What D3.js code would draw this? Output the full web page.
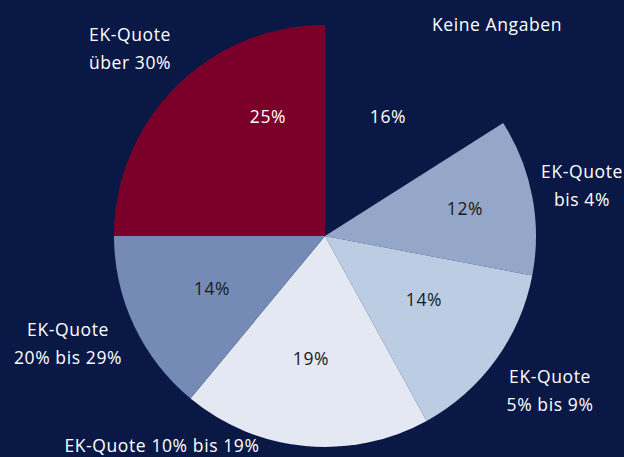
<!DOCTYPE html>
<html><head><meta charset="utf-8">
<script src="https://cdn.jsdelivr.net/npm/d3@7"></script>
<style>html,body{margin:0;padding:0;background:#0a1846;}svg{display:block;}</style>
</head><body><svg id="c" width="624" height="457"></svg>
<script>
const categories = ["Keine Angaben","EK-Quote bis 4%","EK-Quote 5% bis 9%","EK-Quote 10% bis 19%","EK-Quote 20% bis 29%","EK-Quote über 30%"];
const values = [16, 12, 14, 19, 14, 25];
const sliceColors = ["#0a1846","#94a7c8","#bccde3","#e3e8f2","#768ab6","#7b0029"];
const pctColors = ["#ffffff","#1a1a1a","#1a1a1a","#1a1a1a","#1a1a1a","#ffffff"];
const nameLines = [["Keine Angaben"],["EK-Quote","bis 4%"],["EK-Quote","5% bis 9%"],["EK-Quote 10% bis 19%"],["EK-Quote","20% bis 29%"],["EK-Quote","über 30%"]];
// layout: label positions
const pctPos = [[388,116],[465,208],[424,299],[311,358],[212,288],[268,116]];
const namePos = [[497,24],[582,171],[550,376],[162,445],[68,329],[130,34]];

const svg = d3.select("#c");
const W = 624, H = 457, cx = 325, cy = 236, R = 211;
svg.append("rect").attr("width",W).attr("height",H).attr("fill","#0a1846");
const pie = d3.pie().sort(null).value(d=>d);
const arc = d3.arc().innerRadius(0).outerRadius(R);
const g = svg.append("g").attr("transform",`translate(${cx},${cy})`);
g.selectAll("path").data(pie(values)).join("path")
  .attr("d",arc).attr("fill",(d,i)=>sliceColors[i]);

const font = "'Open Sans', sans-serif";
svg.selectAll("text.pct").data(values).join("text").attr("class","pct")
  .attr("x",(d,i)=>pctPos[i][0]).attr("y",(d,i)=>pctPos[i][1])
  .attr("text-anchor","middle").attr("dominant-baseline","central")
  .attr("font-family",font).attr("font-size",17.5).attr("letter-spacing",0.6)
  .attr("fill",(d,i)=>pctColors[i]).text(d=>d+"%");

nameLines.forEach((lines,i)=>{
  const t = svg.append("text").attr("text-anchor","middle")
    .attr("font-family",font).attr("font-size",17.5).attr("letter-spacing",0.6).attr("fill","#ffffff");
  lines.forEach((l,j)=>{
    t.append("tspan").attr("x",namePos[i][0]).attr("y",namePos[i][1]+j*28)
      .attr("dominant-baseline","central").text(l);
  });
});
</script></body></html>
